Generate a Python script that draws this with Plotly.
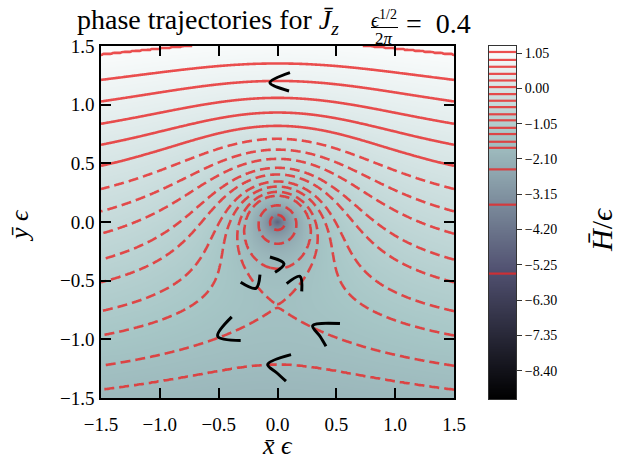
import numpy as np
import plotly.graph_objects as go

# ---------------- data ----------------
# averaged Hamiltonian model  H = y - COUPLING / (r + CORE)
COUPLING = 0.761
CORE = 0.156
X_RANGE = [-1.5, 1.5]
Y_RANGE = [-1.5, 1.5]
GRID_N = 361

# contour levels of H/eps drawn in red (solid: >= 0, dashed: < 0)
SOLID_LEVELS = [1.082, 0.846, 0.642, 0.431, 0.234, 0.039]
DASHED_LEVELS = [-0.171, -0.368, -0.558, -0.771, -0.950, -1.174, -1.359,
                 -1.589, -1.769, -2.41, -3.46, -5.51]

CBAR_RANGE = [-9.24, 1.26]
CBAR_TICKS = [1.05, 0.00, -1.05, -2.10, -3.15, -4.20, -5.25, -6.30, -7.35, -8.40]
AXIS_TICKS = [-1.5, -1.0, -0.5, 0.0, 0.5, 1.0, 1.5]

# hand-drawn direction marks (polylines in data units)
ARROW_X = [[0.106, -0.064, 0.098],
           [-0.064, 0.055, -0.021],
           [-0.313, -0.183, -0.149],
           [0.078, 0.191, 0.206],
           [-0.389, -0.508, -0.313],
           [0.531, 0.299, 0.361, 0.412],
           [0.115, -0.083, -0.007, 0.072]]
ARROW_Y = [[1.273, 1.188, 1.117],
           [-0.298, -0.355, -0.429],
           [-0.514, -0.565, -0.449],
           [-0.525, -0.463, -0.591],
           [-0.809, -0.974, -1.010],
           [-0.866, -0.883, -0.974, -1.059],
           [-1.130, -1.214, -1.285, -1.357]]

# ---------------- styling ----------------
W, H_PX = 641, 464
SERIF = "Liberation Serif, Times New Roman, serif"
RED = "rgba(232,40,40,0.82)"
BONE = [[0.0, "rgb(0,0,0)"], [0.365079, "rgb(81,81,113)"],
        [0.746032, "rgb(166,198,198)"], [1.0, "rgb(255,255,255)"]]


def px(x):
    return x / W


def py(y):
    return 1 - y / H_PX


xs = np.linspace(X_RANGE[0], X_RANGE[1], GRID_N)
ys = np.linspace(Y_RANGE[0], Y_RANGE[1], GRID_N)
XX, YY = np.meshgrid(xs, ys)
HH = YY - COUPLING / (np.hypot(XX, YY) + CORE)

levels = np.array(sorted(SOLID_LEVELS + DASHED_LEVELS))
anchor_h = np.concatenate([[HH.min() - 10], levels, [HH.max() + 10]])
anchor_i = np.arange(-1, len(levels) + 1, dtype=float)
ZI = np.interp(HH, anchor_h, anchor_i)
n_neg = len(DASHED_LEVELS)
n_all = len(levels)

fig = go.Figure()
fig.add_trace(go.Heatmap(x=xs, y=ys, z=HH, colorscale=BONE,
                         zmin=CBAR_RANGE[0], zmax=CBAR_RANGE[1],
                         showscale=False, hoverinfo="skip"))
fig.add_trace(go.Contour(x=xs, y=ys, z=ZI, autocontour=False,
                         contours=dict(start=0, end=n_neg - 1, size=1, coloring="none"),
                         line=dict(color=RED, width=2.6, dash="10px,5px", smoothing=1),
                         showscale=False, showlegend=False, hoverinfo="skip"))
fig.add_trace(go.Contour(x=xs, y=ys, z=ZI, autocontour=False,
                         contours=dict(start=n_neg, end=n_all - 1, size=1, coloring="none"),
                         line=dict(color=RED, width=2.6, smoothing=1),
                         showscale=False, showlegend=False, hoverinfo="skip"))
for ax_, ay_ in zip(ARROW_X, ARROW_Y):
    fig.add_trace(go.Scatter(x=ax_, y=ay_, mode="lines",
                             line=dict(color="black", width=3.0, shape="spline"),
                             hoverinfo="skip", showlegend=False))

# colour bar built as its own axis
cb_vals = np.linspace(CBAR_RANGE[0], CBAR_RANGE[1], 500)
fig.add_trace(go.Heatmap(x=[0, 1], y=cb_vals, z=np.column_stack([cb_vals, cb_vals]),
                         colorscale=BONE, zmin=CBAR_RANGE[0], zmax=CBAR_RANGE[1],
                         showscale=False, hoverinfo="skip", xaxis="x2", yaxis="y2"))
lx, ly = [], []
for lv in levels:
    lx += [0, 1, None]
    ly += [lv, lv, None]
fig.add_trace(go.Scatter(x=lx, y=ly, mode="lines", xaxis="x2", yaxis="y2",
                         line=dict(color=RED, width=2.2), hoverinfo="skip",
                         showlegend=False))


def fmt(v, nd):
    s = f"{abs(v):.{nd}f}"
    return ("\u2212" + s) if v < 0 else s


axis_common = dict(showgrid=False, zeroline=False, showline=True, linecolor="black",
                   linewidth=1.5, mirror="ticks", ticks="inside", ticklen=10,
                   tickwidth=2, tickcolor="black", automargin=False,
                   tickfont=dict(family=SERIF, size=19, color="black"))
fig.update_layout(
    width=W, height=H_PX, margin=dict(l=0, r=0, t=0, b=0, pad=0, autoexpand=False),
    paper_bgcolor="white", plot_bgcolor="white", showlegend=False,
    xaxis=dict(domain=[px(101), px(454)], range=X_RANGE, anchor="y",
               tickvals=AXIS_TICKS, ticktext=[fmt(v, 1) for v in AXIS_TICKS],
               ticklabelstandoff=8, **axis_common),
    yaxis=dict(domain=[py(398), py(46)], range=Y_RANGE, anchor="x",
               tickvals=AXIS_TICKS, ticktext=[fmt(v, 1) for v in AXIS_TICKS],
               ticklabelstandoff=1, **axis_common),
    xaxis2=dict(domain=[px(489), px(516)], range=[0, 1], anchor="y2", automargin=False,
                showgrid=False, zeroline=False, showticklabels=False, ticks="",
                showline=True, linecolor="#333", linewidth=1, mirror=True),
    yaxis2=dict(domain=[py(399), py(46)], range=CBAR_RANGE, anchor="x2", side="right",
                automargin=False,
                showgrid=False, zeroline=False, showline=True, linecolor="#333",
                linewidth=1, mirror=True, ticks="outside", ticklen=5, tickwidth=1,
                tickcolor="#333", tickvals=CBAR_TICKS,
                ticktext=[fmt(v, 2) for v in CBAR_TICKS],
                tickfont=dict(family=SERIF, size=14, color="black")),
)

ann = []
ann.append(dict(x=px(75), y=py(41), xanchor="left", yanchor="bottom",
                text="phase trajectories for <i>J\u0304</i><sub><i>z</i></sub>",
                font=dict(family=SERIF, size=28, color="black")))
ann.append(dict(x=px(384), y=py(33), xanchor="center", yanchor="bottom",
                text="<i>\u03f5</i><sup>1/2</sup>",
                font=dict(family=SERIF, size=20, color="black")))
ann.append(dict(x=px(384), y=py(27), xanchor="center", yanchor="top",
                text="2<i>\u03c0</i>", font=dict(family=SERIF, size=17, color="black")))
ann.append(dict(x=px(404), y=py(41), xanchor="left", yanchor="bottom",
                text="=  0.4", font=dict(family=SERIF, size=28, color="black")))
ann.append(dict(x=px(20), y=py(226), xanchor="center", yanchor="middle", textangle=-90,
                text="<i>\u0233</i> <i>\u03f5</i>",
                font=dict(family=SERIF, size=26, color="black")))
ann.append(dict(x=px(277), y=py(445), xanchor="center", yanchor="middle",
                text="<i>x\u0304</i> <i>\u03f5</i>",
                font=dict(family=SERIF, size=26, color="black")))
ann.append(dict(x=px(601), y=py(230), xanchor="center", yanchor="middle", textangle=-90,
                text="<i>H\u0304</i>/<i>\u03f5</i>",
                font=dict(family=SERIF, size=30, color="black")))
for a in ann:
    a.update(xref="paper", yref="paper", showarrow=False)
fig.update_layout(annotations=ann,
                  shapes=[dict(type="line", xref="paper", yref="paper",
                               x0=px(371), x1=px(398), y0=py(27.5), y1=py(27.5),
                               line=dict(color="black", width=1))])

fig.write_html("out.html", config={"displayModeBar": False},
               post_script="document.body.style.margin='0px';document.body.style.overflow='hidden';")
